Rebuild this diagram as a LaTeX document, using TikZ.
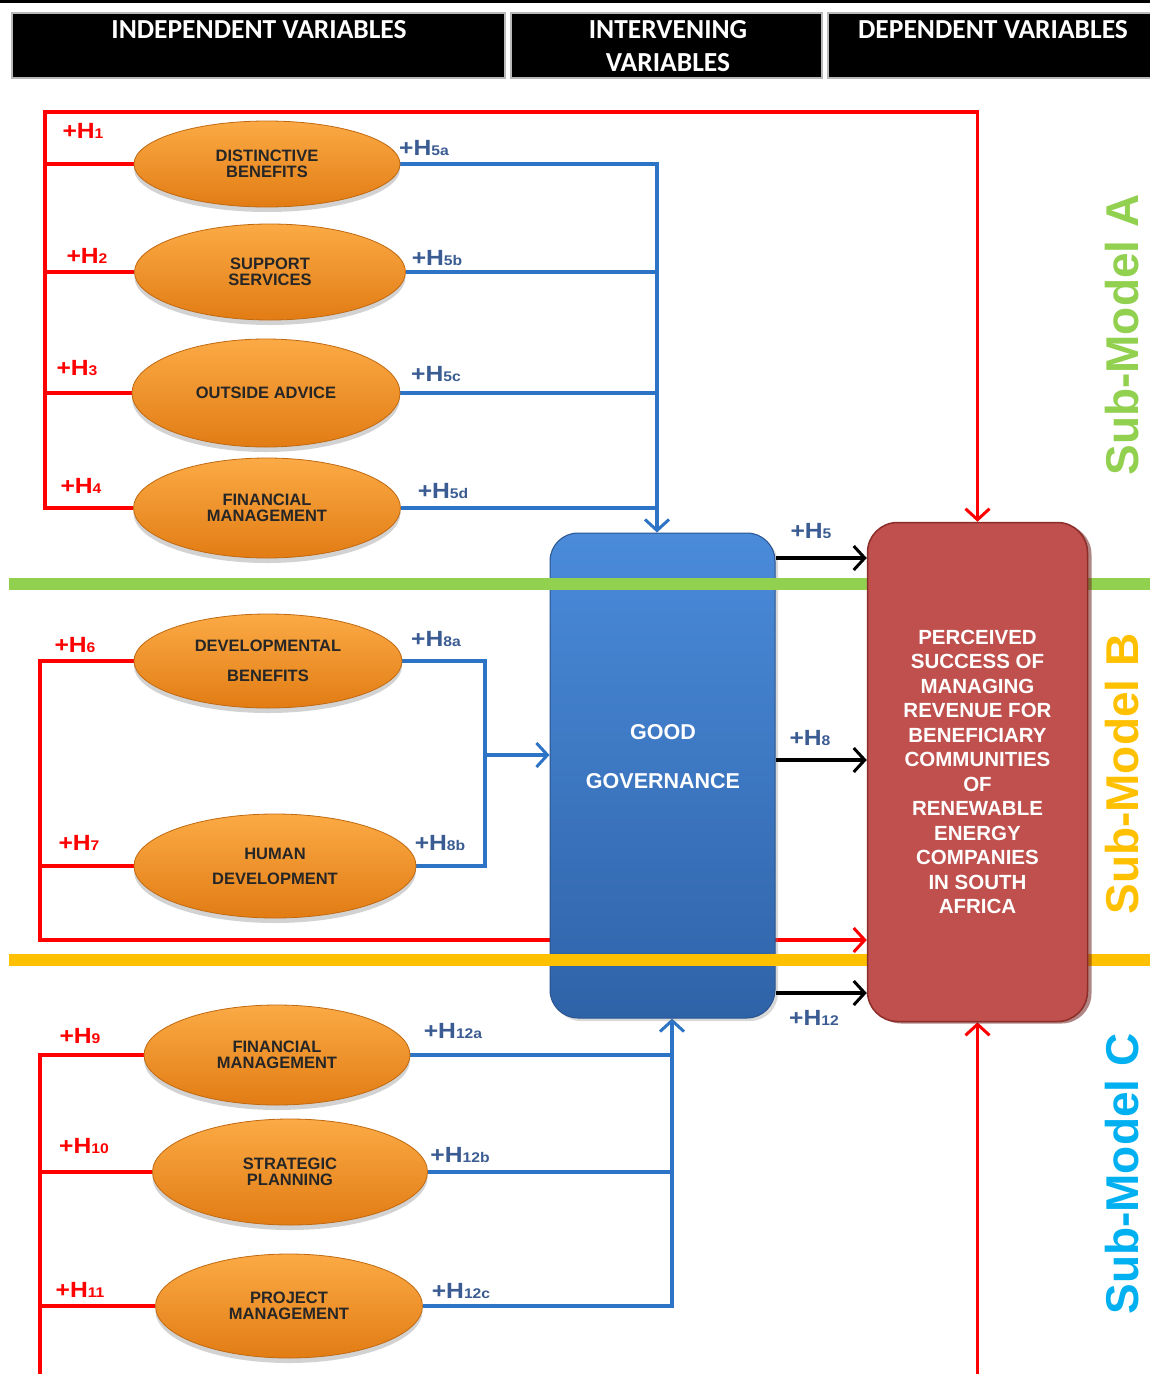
\documentclass[tikz,border=0pt]{standalone}
\usepackage{fontspec}
\setmainfont{Liberation Sans}
\newfontfamily\hdrfont{Carlito}
\usetikzlibrary{arrows.meta,shapes.geometric,shadows,calc}
\definecolor{rl}{HTML}{FF0000}
\definecolor{bl}{HTML}{2E74C6}
\definecolor{lbl}{HTML}{3B5C92}
\definecolor{grn}{HTML}{92D050}
\definecolor{yel}{HTML}{FFC000}
\definecolor{cya}{HTML}{00B0F0}
\definecolor{prfill}{HTML}{C0504D}
\definecolor{prdraw}{HTML}{8C2D2A}
\definecolor{ggtop}{HTML}{4A8BDA}
\definecolor{ggbot}{HTML}{2F63A8}
\definecolor{ortop}{HTML}{FBAA45}
\definecolor{orbot}{HTML}{E27C14}
\pgfdeclarelayer{bg}
\pgfdeclarelayer{lines}
\pgfdeclarelayer{bands}
\pgfdeclarelayer{top}
\pgfsetlayers{bg,lines,main,bands,top}
\newcommand\hypo[1]{\scalebox{1.12}[1]{+H{\fontsize{14}{14}\selectfont #1}}}
\tikzset{
  redl/.style={draw=rl, line width=3.2pt},
  bluel/.style={draw=bl, line width=3.2pt},
  blkl/.style={draw=black, line width=3.5pt},
  tipb/.style={-{Straight Barb[length=11pt,width=24pt,line width=3pt]}},
  hdrbox/.style={fill=black, draw=gray!55, line width=1.5pt},
  hdrtxt/.style={text=white, font=\hdrfont\bfseries\fontsize{27.5}{33}\selectfont, inner sep=0pt, align=center},
  ell/.style={ellipse, inner sep=0pt, top color=ortop, bottom color=orbot,
    draw=orbot!85!black, line width=0.8pt,
    drop shadow={opacity=0.35, shadow xshift=0pt, shadow yshift=-5pt},
    font=\fontsize{16.5}{16}\selectfont\bfseries, text=black!85, align=center},
  redlab/.style={text=rl, font=\fontsize{22}{22}\selectfont\bfseries, inner sep=0pt},
  bluelab/.style={text=lbl, font=\fontsize{22}{22}\selectfont\bfseries, inner sep=0pt},
  ggbox/.style={rectangle, rounded corners=28pt, top color=ggtop, bottom color=ggbot,
    draw=ggbot!85!black, line width=1pt, minimum width=225pt, minimum height=485pt,
    drop shadow={opacity=0.3, shadow xshift=3pt, shadow yshift=-3pt}},
  prbox/.style={rectangle, rounded corners=30pt, fill=prfill, draw=prdraw, line width=1.5pt,
    minimum width=220pt, minimum height=499pt,
    drop shadow={opacity=0.55, fill=prdraw!80!black, shadow xshift=4pt, shadow yshift=-2pt},
    text=white, font=\fontsize{20.5}{24.5}\selectfont\bfseries, align=center},
  subm/.style={rotate=90, font=\fontsize{46}{46}\selectfont\bfseries, inner sep=0pt}
}
\begin{document}
\begin{tikzpicture}[x=1pt,y=-1pt]
\useasboundingbox (0,0) rectangle (1150,1374);
\begin{pgfonlayer}{bg}
\fill[white] (0,0) rectangle (1150,1374);
\end{pgfonlayer}
% top rule and header
\fill[black] (0,0) rectangle (1150,3);
\draw[hdrbox] (12,13) rectangle (505,78);
\draw[hdrbox] (511,13) rectangle (822,78);
\draw[hdrbox] (828,13) rectangle (1152,78);
\node[hdrtxt] (h1) at (259,30) {INDEPENDENT VARIABLES};
\node[hdrtxt] (h2) at (668,46) {INTERVENING\\VARIABLES};
\node[hdrtxt] (h3) at (993,30) {DEPENDENT VARIABLES};

% ellipses
\node[ell, minimum width=266pt, minimum height=86pt] (e1) at (267,164) {DISTINCTIVE\\BENEFITS};
\node[ell, minimum width=271pt, minimum height=96pt] (e2) at (270,272) {SUPPORT\\SERVICES};
\node[ell, minimum width=268pt, minimum height=108pt] (e3) at (266,393) {OUTSIDE ADVICE};
\node[ell, minimum width=267pt, minimum height=100pt] (e4) at (267,508) {FINANCIAL\\MANAGEMENT};
\node[ell, minimum width=268pt, minimum height=94pt] (e5) at (268,661) {DEVELOPMENTAL\\[14pt]BENEFITS};
\node[ell, minimum width=282pt, minimum height=104pt] (e6) at (275,866) {HUMAN\\[9pt]DEVELOPMENT};
\node[ell, minimum width=266pt, minimum height=100pt] (e7) at (277,1055) {FINANCIAL\\MANAGEMENT};
\node[ell, minimum width=275pt, minimum height=106pt] (e8) at (290,1172) {STRATEGIC\\PLANNING};
\node[ell, minimum width=267pt, minimum height=104pt] (e9) at (289,1306) {PROJECT\\MANAGEMENT};

% good governance
\node[ggbox] (gg) at (662.5,775.5) {};
\node[text=white, font=\fontsize{21.5}{49}\selectfont\bfseries, align=center, inner sep=0pt] (ggt) at (663,757) {GOOD\\GOVERNANCE};

% perceived success
\begin{pgfonlayer}{top}
\node[prbox] (pr) at (977.5,772) {PERCEIVED\\SUCCESS OF\\MANAGING\\REVENUE FOR\\BENEFICIARY\\COMMUNITIES\\OF\\RENEWABLE\\ENERGY\\COMPANIES\\IN SOUTH\\AFRICA};
\end{pgfonlayer}

% rails
\coordinate (rA1) at (45,112);
\coordinate (rA4) at (45,508);
\coordinate (bA) at (657,508);
\coordinate (rB) at (40,940);
\coordinate (bB) at (485,755);
\coordinate (rC) at (40,1374);
\coordinate (bC) at (672,1306);
\coordinate (rD) at (977.5,1374);
\coordinate (k5) at (0,558);
\coordinate (k8) at (0,760);
\coordinate (k12) at (0,993);

\begin{pgfonlayer}{lines}
% sub-model A red
\draw[redl, tipb] (e4.west) -- (rA4) -- (rA1) -| (pr.north);
\draw[redl] (e1.west) -- (e1.west -| rA1);
\draw[redl] (e2.west) -- (e2.west -| rA1);
\draw[redl] (e3.west) -- (e3.west -| rA1);
% sub-model A blue
\draw[bluel, tipb] (e1.east) -| (gg.north -| bA);
\draw[bluel] (e2.east) -- (e2.east -| bA);
\draw[bluel] (e3.east) -- (e3.east -| bA);
\draw[bluel] (e4.east) -- (bA);
% sub-model B red
\draw[redl, tipb] (e5.west) -| (rB) -- (rB -| pr.west);
\draw[redl] (e6.west) -- (e6.west -| rB);
% sub-model B blue
\draw[bluel] (e5.east) -| (bB) |- (e6.east);
\draw[bluel, tipb] (bB) -- (bB -| gg.west);
% sub-model C red
\draw[redl] (e7.west) -| (rC);
\draw[redl] (e8.west) -- (e8.west -| rC);
\draw[redl] (e9.west) -- (e9.west -| rC);
% sub-model C blue
\draw[bluel, tipb] (e9.east) -- (bC) -- (bC |- gg.south);
\draw[bluel] (e7.east) -- (e7.east -| bC);
\draw[bluel] (e8.east) -- (e8.east -| bC);
% bottom red into dependent
\draw[redl, tipb] (rD) -- (rD |- pr.south);
\end{pgfonlayer}

% bands
\begin{pgfonlayer}{bands}
\draw[grn, line width=12pt] (9,584) -- (1150,584);
\draw[yel, line width=12pt] (9,960) -- (1150,960);
\end{pgfonlayer}

\begin{pgfonlayer}{top}
\draw[blkl, tipb] (gg.east |- k5) -- (pr.west |- k5);
\draw[blkl, tipb] (gg.east |- k8) -- (pr.west |- k8);
\draw[blkl, tipb] (gg.east |- k12) -- (pr.west |- k12);
\end{pgfonlayer}

% labels
\node[redlab] (l1) at (83,131) {\hypo{1}};
\node[redlab] (l2) at (87,256) {\hypo{2}};
\node[redlab] (l3) at (77,368) {\hypo{3}};
\node[redlab] (l4) at (81,486) {\hypo{4}};
\node[bluelab] (l5a) at (424,148) {\hypo{5a}};
\node[bluelab] (l5b) at (437,258) {\hypo{5b}};
\node[bluelab] (l5c) at (436,374) {\hypo{5c}};
\node[bluelab] (l5d) at (443,491) {\hypo{5d}};
\node[bluelab] (l5) at (811,531) {\hypo{5}};
\node[bluelab] (l8) at (810,738) {\hypo{8}};
\node[bluelab] (l12) at (814,1018) {\hypo{12}};
\node[redlab] (l6) at (75,645) {\hypo{6}};
\node[redlab] (l7) at (79,843) {\hypo{7}};
\node[bluelab] (l8a) at (436,639) {\hypo{8a}};
\node[bluelab] (l8b) at (440,843) {\hypo{8b}};
\node[redlab] (l9) at (80,1036) {\hypo{9}};
\node[redlab] (l10) at (84,1146) {\hypo{10}};
\node[redlab] (l11) at (80,1290) {\hypo{11}};
\node[bluelab] (l12a) at (453,1031) {\hypo{12a}};
\node[bluelab] (l12b) at (460,1155) {\hypo{12b}};
\node[bluelab] (l12c) at (461,1291) {\hypo{12c}};

% sub-model titles
\node[subm, text=grn] (sa) at (1122,335) {Sub-Model A};
\node[subm, text=yel] (sb) at (1122,774) {Sub-Model B};
\node[subm, text=cya] (sc) at (1122,1174) {Sub-Model C};
\end{tikzpicture}
\end{document}
